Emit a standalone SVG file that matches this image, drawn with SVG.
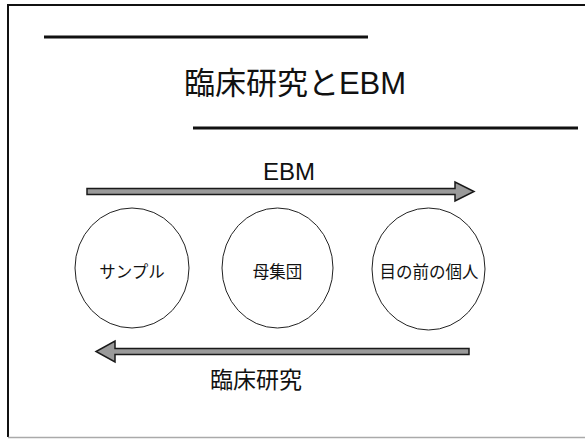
<svg xmlns="http://www.w3.org/2000/svg" width="585" height="441" viewBox="0 0 585 441">
  <style>
    .t { font-family: "Liberation Sans", "Noto Sans CJK JP", sans-serif; fill: #111; text-anchor: middle; }
    .node ellipse { fill: #fff; stroke: #222; stroke-width: 1; }
    .lbl { font-size: 16.5px; }
    .arrow { fill: #9a9a9a; stroke: #1a1a1a; stroke-width: 1.5; stroke-linejoin: miter; }
    .rule { stroke: #111; stroke-width: 3; }
  </style>
  <rect width="585" height="441" fill="#fff"/>
  <!-- frame -->
  <path d="M585,5 H8 V437" fill="none" stroke="#111" stroke-width="2"/>
  <line x1="8" y1="437.5" x2="585" y2="437.5" stroke="#aaa" stroke-width="1.5"/>
  <!-- decorative rules -->
  <line class="rule" x1="44" y1="37" x2="368" y2="37"/>
  <line class="rule" x1="193" y1="128" x2="578" y2="128"/>
  <!-- title -->
  <text class="t" x="295" y="94" font-size="31">臨床研究とEBM</text>
  <!-- arrow labels -->
  <text class="t" x="289" y="180" font-size="24">EBM</text>
  <text class="t" x="256" y="388" font-size="23">臨床研究</text>
  <!-- nodes -->
  <g id="node-sample" class="node">
    <ellipse cx="132" cy="268" rx="57" ry="60"/>
    <text class="t lbl" x="132" y="278">サンプル</text>
  </g>
  <g id="node-population" class="node">
    <ellipse cx="277.5" cy="268" rx="55.5" ry="60"/>
    <text class="t lbl" x="277.5" y="278">母集団</text>
  </g>
  <g id="node-individual" class="node">
    <ellipse cx="428.5" cy="269" rx="56.5" ry="61"/>
    <text class="t lbl" x="429" y="278">目の前の個人</text>
  </g>
  <!-- connectors -->
  <g id="connectors">
    <polygon id="arrow-ebm" class="arrow" points="87,188.5 455,188.5 455,182 474,191.5 455,201 455,194.5 87,194.5"/>
    <polygon id="arrow-clinical" class="arrow" points="469,348.5 115,348.5 115,341 96,351.5 115,362 115,354.5 469,354.5"/>
  </g>
</svg>
